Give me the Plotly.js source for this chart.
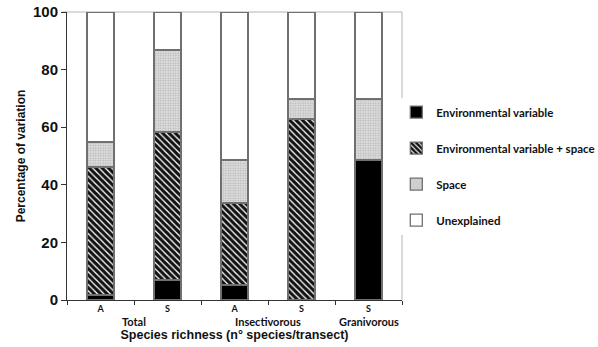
<!DOCTYPE html>
<html>
<head>
<meta charset="utf-8">
<script src="https://cdn.plot.ly/plotly-3.0.1.min.js"></script>
<style>html,body{margin:0;padding:0;background:#fff}#chart{width:598px;height:347px}</style>
</head>
<body>
<div id="chart"></div>
<script>
const groups = ["Total", "Total", "Insectivorous", "Insectivorous", "Granivorous"];
const subLabels = ["A", "S", "A", "S", "S"];
const envVals = [1.7, 6.9, 5.2, 0, 48.6];
const envSpaceVals = [44.5, 51.4, 28.5, 62.8, 0];
const spaceVals = [8.7, 28.5, 14.9, 7.0, 21.2];
const unexplainedVals = [45.1, 13.2, 51.4, 30.2, 30.2];
const seriesNames = ["Environmental variable", "Environmental variable + space", "Space", "Unexplained"];

// bar positions: one slot per category index
const pos = subLabels.map((_, i) => i);
const boundaries = pos.map(i => i - 0.5).concat([pos.length - 0.5]);
const outline = {color: "#707070", width: 1.3};
const common = {type: "bar", x: pos, width: 0.4, hoverinfo: "skip"};

const traces = [
  Object.assign({}, common, {name: seriesNames[0], y: envVals, legendgroup: "g1",
    marker: {color: "#000000", line: outline}}),
  Object.assign({}, common, {name: seriesNames[1], y: envSpaceVals, legendgroup: "g2",
    marker: {color: "#ffffff", line: outline,
      pattern: {shape: "\\", fgcolor: "#111111", bgcolor: "#f4f4f4", size: 4.5, solidity: 0.68, fillmode: "replace"}}}),
  Object.assign({}, common, {name: seriesNames[2], y: spaceVals, legendgroup: "g3",
    marker: {color: "#d8d8d8", line: outline,
      pattern: {shape: ".", fgcolor: "#b4b4b4", bgcolor: "#e0e0e0", size: 2.5, solidity: 0.4, fillmode: "replace"}}}),
  Object.assign({}, common, {name: seriesNames[3], y: unexplainedVals, legendgroup: "g4",
    marker: {color: "#ffffff", line: outline}})
];

// group labels centred under each group of bars
const groupAnn = [];
const seen = {};
groups.forEach((g, i) => { if (!seen[g]) seen[g] = []; seen[g].push(i); });
Object.keys(seen).forEach(g => {
  const idx = seen[g];
  groupAnn.push({text: g, xref: "x", yref: "paper", x: (idx[0] + idx[idx.length - 1]) / 2, y: 0,
    yshift: -13, yanchor: "top", showarrow: false,
    font: {family: "Lato, 'Liberation Sans', sans-serif", size: 11, weight: "bold", color: "#111"}});
});

const layout = {
  width: 598, height: 347,
  margin: {l: 67, r: 196, t: 12, b: 47, autoexpand: false},
  paper_bgcolor: "#ffffff", plot_bgcolor: "#ffffff",
  barmode: "stack",
  showlegend: true,
  legend: {x: 0.983, xanchor: "left", y: 0.703, yanchor: "top",
    font: {family: "Lato, 'Open Sans', sans-serif", size: 11.5, color: "#111", weight: "bold"},
    tracegroupgap: 17, itemwidth: 30, traceorder: "grouped"},
  font: {family: "'Liberation Sans', Arial, sans-serif", color: "#111"},
  xaxis: {
    range: [-0.5, pos.length - 0.5],
    tickmode: "array", tickvals: pos, ticktext: subLabels, ticks: "",
    minor: {tickmode: "array", tickvals: boundaries, ticks: "outside", ticklen: 4, tickcolor: "#333", showgrid: false},
    showline: true, linecolor: "#333", linewidth: 1,
    tickfont: {size: 9, weight: "bold", family: "Lato, 'Liberation Sans', sans-serif"},
    title: {text: "Species richness (n° species/transect)", standoff: 17,
      font: {size: 12.5, weight: "bold", family: "'Liberation Sans', Arial, sans-serif"}},
    showgrid: false, zeroline: false
  },
  yaxis: {
    range: [0, 100], tickvals: [0, 20, 40, 60, 80, 100],
    showline: true, linecolor: "#333", linewidth: 1,
    ticks: "outside", ticklen: 5, tickcolor: "#333",
    tickfont: {size: 15, weight: "bold"},
    showgrid: false, zeroline: false,
    title: {text: "Percentage of variation", standoff: 4,
      font: {size: 12, weight: "bold"}}
  },
  annotations: groupAnn,
  shapes: [
    {type: "line", xref: "paper", yref: "paper", x0: -0.015, x1: 1, y0: 1, y1: 1, line: {color: "#b5b5b5", width: 1}, layer: "below"},
    {type: "line", xref: "paper", yref: "paper", x0: 1, x1: 1, y0: 0, y1: 1, line: {color: "#b5b5b5", width: 1}, layer: "below"}
  ]
};

Plotly.newPlot("chart", traces, layout, {displayModeBar: false, staticPlot: true});
</script>
</body>
</html>
